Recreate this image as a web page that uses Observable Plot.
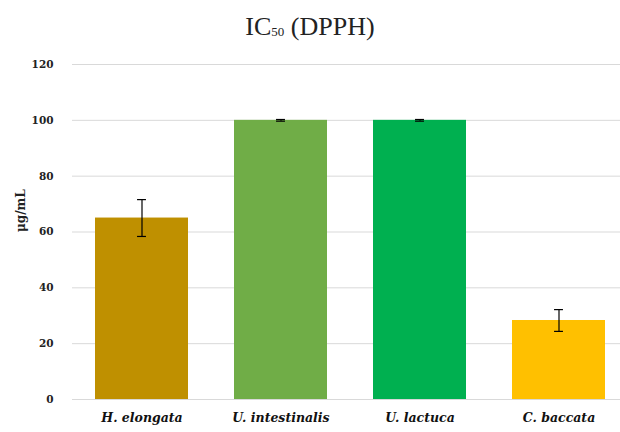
<!DOCTYPE html>
<html>
<head>
<meta charset="utf-8">
<script src="https://cdn.jsdelivr.net/npm/d3@7"></script>
<script src="https://cdn.jsdelivr.net/npm/@observablehq/plot@0.6"></script>
<style>
  body { margin: 0; background: #fff; }
  #title { height: 50px; text-align: center; font-family: "Liberation Serif", "DejaVu Serif", serif; font-size: 26px; color: #222; line-height: 54px; }
  #title sub { font-size: 13px; vertical-align: 0; position: relative; top: 1px; }
</style>
</head>
<body>
<div id="title">IC<sub>50</sub> (DPPH)</div>
<div id="chart"></div>
<script>
const species = ["H. elongata", "U. intestinalis", "U. lactuca", "C. baccata"];
const values = [65, 100, 100, 28.3];
const errors = [6.6, 0.3, 0.3, 3.9];
const colors = ["#BF9000", "#70AD47", "#00B050", "#FFC000"];
const yTicks = [0, 20, 40, 60, 80, 100, 120];

const data = species.map((s, i) => ({species: s, value: values[i], err: errors[i], color: colors[i]}));

const width = 620, height = 382, mL = 72, mR = 0;
const xRange = [70, 629];
const pInner = 0.334, pOuter = pInner / 2;
const step = (xRange[1] - xRange[0]) / species.length;
const bw = step * (1 - pInner);
const capW = 9;
const inset = (bw - capW) / 2;
const font = "'DejaVu Serif', 'Liberation Serif', serif";

const chart = Plot.plot({
  width, height,
  marginLeft: mL, marginRight: mR, marginTop: 14, marginBottom: 33,
  style: {fontFamily: font, background: "#fff"},
  x: {domain: species, range: xRange, paddingInner: pInner, paddingOuter: pOuter, label: null},
  y: {domain: [0, 120], ticks: yTicks, label: null},
  marks: [
    Plot.gridY(yTicks.filter(d => d > 0), {stroke: "#d9d9d9", strokeOpacity: 1, strokeWidth: 1}),
    Plot.barY(data, {x: "species", y: "value", fill: "color"}),
    Plot.ruleY([0], {stroke: "#d9d9d9", strokeWidth: 1}),
    Plot.ruleX(data, {x: "species", y1: d => d.value - d.err, y2: d => d.value + d.err, stroke: "#000", strokeWidth: 1.2}),
    Plot.tickY(data, {x: "species", y: d => d.value + d.err, stroke: "#000", strokeWidth: 1.2, insetLeft: inset, insetRight: inset}),
    Plot.tickY(data, {x: "species", y: d => d.value - d.err, stroke: "#000", strokeWidth: 1.2, insetLeft: inset, insetRight: inset}),
    Plot.axisY(yTicks, {tickSize: 0, tickPadding: 19, fontSize: 10.5, fontWeight: "bold", fill: "#222", label: null}),
    Plot.axisX({tickSize: 0, tickPadding: 14, fontSize: 12.5, fontWeight: "bold", fontStyle: "italic", fill: "#111", label: null}),
    Plot.text(["μg/mL"], {frameAnchor: "left", dx: -51, rotate: -90, fontSize: 12, fontWeight: "bold", fill: "#222"})
  ]
});
document.getElementById("chart").appendChild(chart);
</script>
</body>
</html>
